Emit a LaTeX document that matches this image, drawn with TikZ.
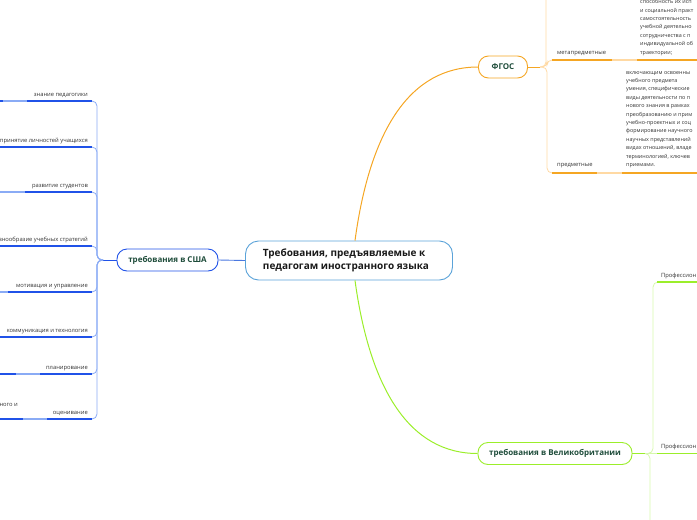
\documentclass[tikz,border=0pt]{standalone}
\usepackage{fontspec}
\setmainfont{Open Sans}
\usepackage{xcolor}
\usetikzlibrary{positioning, calc}

\definecolor{usadark}{HTML}{2052E8}
\definecolor{usalight}{HTML}{8AABF5}
\definecolor{usamid}{HTML}{4A78E0}
\definecolor{fgosdark}{HTML}{F5A623}
\definecolor{fgoslight}{HTML}{FFD9A3}
\definecolor{ukdark}{HTML}{9BEE2A}
\definecolor{uklight}{HTML}{D6F8AC}
\definecolor{rootline}{HTML}{5BA3D9}
\definecolor{topic}{HTML}{1F4D3B}
\definecolor{labeltext}{HTML}{333333}

\tikzset{
  rootbox/.style={draw=rootline, line width=0.9pt, fill=white, rounded corners=13pt,
    minimum width=207pt, minimum height=39pt, align=left, text=black!90,
    font=\fontsize{10}{13}\selectfont\bfseries},
  topicbox/.style={draw=#1, line width=0.9pt, fill=white, rounded corners=10pt,
    minimum height=22pt, text=topic, font=\fontsize{8}{10}\selectfont\bfseries},
  leaf/.style={text=labeltext, inner sep=0pt, font=\fontsize{5.8}{7}\selectfont},
  blocktext/.style={text=labeltext, inner sep=0pt, align=left,
    font=\fontsize{5.4}{8.4}\selectfont},
  darkline/.style={draw=#1, line width=1.4pt},
  lightline/.style={draw=#1, line width=0.8pt, rounded corners=5pt}
}

\begin{document}
\begin{tikzpicture}[x=1pt, y=-1pt]

        % Frame
        \useasboundingbox (0,0) rectangle (697,520);
        \clip (0,0) rectangle (697,520);

        % Main topics
        \node[rootbox] (root) at (349,260.5) {Требования, предъявляемые к\\педагогам иностранного языка\hspace*{6pt}};
        \node[topicbox=usadark, minimum width=101pt] (usa) at (167.5,260) {требования в США};
        \node[topicbox=fgosdark, minimum width=49pt] (fgos) at (503,67) {ФГОС};
        \node[topicbox=ukdark, minimum width=154pt] (uk) at (555,453.5) {требования в Великобритании};

        % Connectors from the root
        \draw[usamid, line width=0.9pt] (root.west) -- (usa.east);
        \draw[fgosdark, line width=1pt] ([xshift=6pt]root.north) .. controls (370,130) and (410,67) .. (fgos.west);
        \draw[ukdark, line width=1pt] ([xshift=6pt]root.south) .. controls (370,390) and (410,453.5) .. (uk.west);

        % USA branch
        \coordinate (usaj) at (103,260);
        \draw[usadark, line width=1pt] (usa.west) -- (usaj);
        \foreach \y/\lbl [count=\i] in {101/знание педагогики, 147/принятие личностей учащихся,
            192/развитие студентов, 246/разнообразие учебных стратегий,
            292/мотивация и управление, 337/коммуникация и технология,
            374/планирование, 419/оценивание} {
          \coordinate (usa\i) at (92,\y);
          \draw[lightline=usalight] (usaj) -| (97,\y) -- (usa\i);
          \draw[darkline=usadark] (usa\i) -- (0,\y);
          \node[leaf, anchor=base east] (usal\i) at (88,\y-5) {\lbl};
        }
        % lighter pieces where the sub-branches join
        \draw[darkline=usalight] (3,101) -- (27,101);
        \draw[darkline=usalight] (0,192) -- (25,192);
        \draw[darkline=usalight] (0,292) -- (8,292);
        \draw[darkline=usalight] (16,374) -- (40,374);
        \draw[darkline=usalight] (23,419) -- (47,419);
        \node[leaf, anchor=base east] (usax) at (18,406) {ного и};

        % FGOS branch
        \coordinate (fgosj) at (540,67);
        \draw[fgosdark, line width=1pt] (fgos.east) -- (fgosj);
        \draw[lightline=fgoslight] (fgosj) -| (546,0);
        \draw[lightline=fgoslight] (fgosj) -| (547,60) -- (552,60);
        \draw[lightline=fgoslight] (fgosj) -| (547,173) -- (552,173);
        \draw[darkline=fgosdark] (552,60) -- (612,60);
        \draw[darkline=fgoslight] (612,60) -- (637,60);
        \draw[darkline=fgosdark] (637,60) -- (697,60);
        \draw[darkline=fgosdark] (552,173) -- (597,173);
        \draw[darkline=fgoslight] (597,173) -- (622,173);
        \draw[darkline=fgosdark] (622,173) -- (697,173);
        \node[leaf, anchor=base west] (meta) at (557,54) {метапредметные};
        \node[leaf, anchor=base west] (pred) at (557,166) {предметные};
        \node[blocktext, anchor=base west] (metatxt) at (640,54)
          {способность их исп\\и социальной практ\\самостоятельность\\учебной деятельно\\сотрудничества с п\\индивидуальной об\\траектории;};
        \node[blocktext, anchor=base west] (predtxt) at (626,166.5)
          {включающим освоенны\\учебного предмета\\умения, специфические\\виды деятельности по п\\нового знания в рамках\\преобразованию и прим\\учебно-проектных и соц\\формирование научного\\научных представлений\\видах отношений, владе\\терминологией, ключев\\приемами.};

        % UK branch
        \coordinate (ukj) at (645,453.5);
        \draw[ukdark, line width=1pt] (uk.east) -- (ukj);
        \draw[darkline=uklight] (ukj) -- (657,453.5);
        \draw[lightline=uklight] (ukj) -| (653,282) -- (657,282);
        \draw[lightline=uklight] (ukj) -| (650,520);
        \draw[darkline=ukdark] (657,282) -- (697,282);
        \draw[darkline=ukdark] (657,453.5) -- (697,453.5);
        \node[leaf, anchor=base west] (uk1) at (661,277) {Профессион};
        \node[leaf, anchor=base west] (uk2) at (661,448.5) {Профессион};

\end{tikzpicture}
\end{document}
